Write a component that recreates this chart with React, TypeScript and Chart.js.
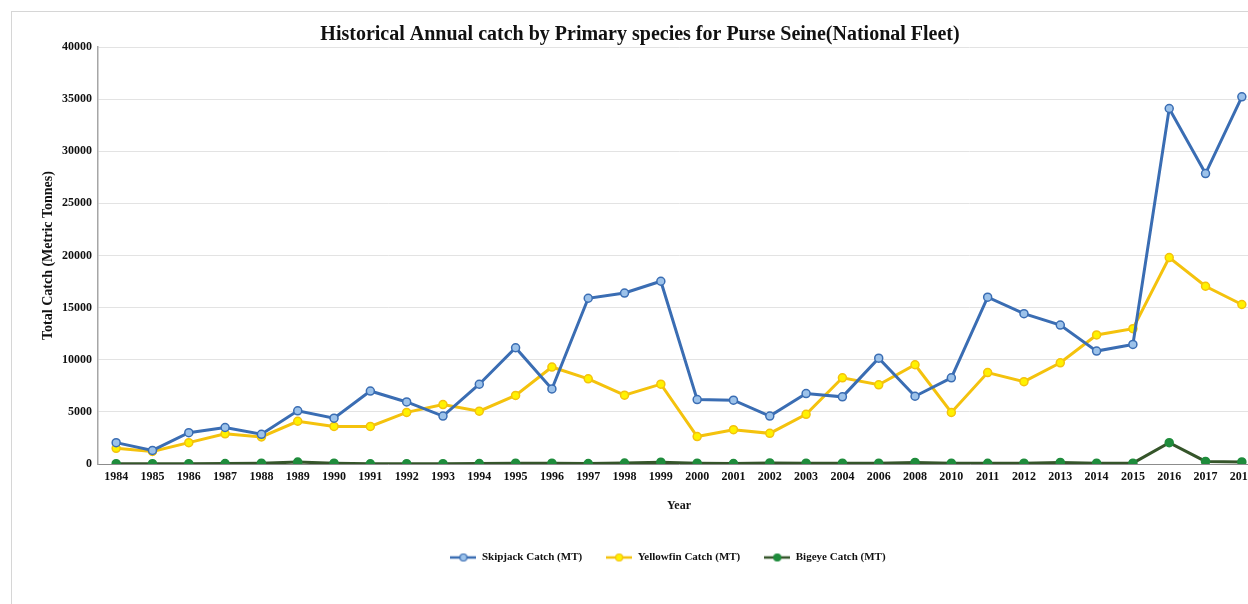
import React, { useEffect, useRef } from "react";
import { Chart, registerables } from "chart.js";

Chart.register(...registerables);

const years = [
  "1984", "1985", "1986", "1987", "1988", "1989", "1990", "1991", "1992", "1993",
  "1994", "1995", "1996", "1997", "1998", "1999", "2000", "2001", "2002", "2003",
  "2004", "2006", "2008", "2010", "2011", "2012", "2013", "2014", "2015", "2016",
  "2017", "2018",
];

const skipjack = [
  2050, 1300, 3000, 3500, 2850, 5100, 4400, 7000, 5950, 4600,
  7650, 11150, 7200, 15900, 16400, 17530, 6180, 6120, 4600, 6760,
  6440, 10150, 6500, 8270, 16000, 14420, 13330, 10830, 11470, 34100,
  27860, 35220,
];

const yellowfin = [
  1500, 1200, 2050, 2900, 2600, 4100, 3600, 3600, 4950, 5700,
  5070, 6580, 9300, 8170, 6600, 7660, 2630, 3290, 2940, 4770,
  8270, 7600, 9520, 4940, 8770, 7900, 9710, 12380, 12980, 19800,
  17050, 15300,
];

const bigeye = [
  30, 30, 30, 40, 80, 180, 80, 20, 30, 30,
  40, 80, 80, 40, 90, 170, 80, 40, 100, 80,
  80, 80, 150, 80, 70, 80, 150, 80, 80, 2050,
  250, 200,
];

const seriesNames = ["Skipjack Catch (MT)", "Yellowfin Catch (MT)", "Bigeye Catch (MT)"];
const yTicks = [0, 5000, 10000, 15000, 20000, 25000, 30000, 35000, 40000];

const TITLE = "Historical Annual catch by Primary species for Purse Seine(National Fleet)";
const SERIF = "'Liberation Serif', 'Times New Roman', serif";

function makeMarker(line: string, fill: string, border: string) {
  const c = document.createElement("canvas");
  c.width = 26;
  c.height = 10;
  const ctx = c.getContext("2d")!;
  ctx.strokeStyle = line;
  ctx.lineWidth = 2.5;
  ctx.beginPath();
  ctx.moveTo(0, 5);
  ctx.lineTo(26, 5);
  ctx.stroke();
  ctx.beginPath();
  ctx.arc(13, 5, 3.5, 0, Math.PI * 2);
  ctx.fillStyle = fill;
  ctx.fill();
  ctx.lineWidth = 1.2;
  ctx.strokeStyle = border;
  ctx.stroke();
  return c;
}

const legendShift = {
  id: "legendShift",
  afterLayout(chart: any) {
    const lg = chart.legend;
    if (lg) {
      lg.left -= 11;
      lg.right -= 11;
    }
  },
};

export default function App() {
  const ref = useRef<HTMLCanvasElement | null>(null);

  useEffect(() => {
    document.body.style.margin = "0";
    const canvas = ref.current!;
    const styles = [
      { line: "#3a6db3", fill: "#9cc2ea", border: "#3a6db3" },
      { line: "#f4c20d", fill: "#fff200", border: "#f4c20d" },
      { line: "#35552a", fill: "#1f8c3c", border: "#1f8c3c" },
    ];
    const markers = styles.map((s) => makeMarker(s.line, s.fill, s.border));
    const values = [skipjack, yellowfin, bigeye];

    const chart = new Chart(canvas, {
      type: "line",
      data: {
        labels: years,
        datasets: values.map((v, i) => ({
          label: seriesNames[i],
          data: v,
          borderColor: styles[i].line,
          backgroundColor: styles[i].fill,
          pointBackgroundColor: styles[i].fill,
          pointBorderColor: styles[i].border,
          pointBorderWidth: 1.5,
          pointRadius: 4,
          borderWidth: 3,
          tension: 0,
          fill: false,
        })),
      },
      plugins: [legendShift],
      options: {
        animation: false,
        responsive: false,
        devicePixelRatio: 1,
        layout: { padding: { left: 20, right: 10, top: 0, bottom: 31 } },
        plugins: {
          title: {
            display: true,
            text: TITLE,
            color: "#111",
            font: { family: SERIF, size: 20, weight: "bold" },
            padding: { top: 23, bottom: 0 },
          },
          legend: {
            position: "bottom",
            fullSize: false,
            labels: {
              usePointStyle: true,
              pointStyleWidth: 26,
              padding: 24,
              color: "#111",
              font: { family: SERIF, size: 11, weight: "bold" },
              generateLabels: (ch: any) => {
                const items = Chart.defaults.plugins.legend.labels.generateLabels(ch);
                return items.map((it: any, i: number) => ({ ...it, pointStyle: markers[i] }));
              },
            },
          },
          tooltip: { enabled: false },
        },
        scales: {
          x: {
            offset: true,
            grid: { display: false, drawTicks: false },
            border: { display: true, color: "#8c8c8c", width: 1 },
            ticks: {
              padding: 6,
              color: "#111",
              maxRotation: 0,
              autoSkip: false,
              font: { family: SERIF, size: 12, weight: "bold" },
            },
            title: {
              display: true,
              text: "Year",
              color: "#111",
              font: { family: SERIF, size: 12, weight: "bold" },
              padding: { top: 0, bottom: 15 },
            },
            afterFit: (s: any) => {
              s.height = 64;
            },
          },
          y: {
            min: 0,
            max: 40000,
            afterBuildTicks: (s: any) => {
              s.ticks = yTicks.map((v) => ({ value: v }));
            },
            grid: { color: "#e3e3e3", drawTicks: false, lineWidth: 1 },
            border: { display: true, color: "#a6a6a6", width: 1.5 },
            ticks: {
              padding: 6,
              color: "#111",
              font: { family: SERIF, size: 12, weight: "bold" },
              callback: (v: any) => String(v),
            },
            title: {
              display: true,
              text: "Total Catch (Metric Tonnes)",
              color: "#111",
              font: { family: SERIF, size: 14, weight: "bold" },
              padding: { top: 20, bottom: 0 },
            },
            afterFit: (s: any) => {
              s.width = 78;
            },
          },
        },
      },
    });
    return () => chart.destroy();
  }, []);

  return (
    <div style={{ position: "relative", width: 1248, height: 604, overflow: "hidden", background: "#fff" }}>
      <div
        style={{
          position: "absolute",
          left: 11,
          top: 11,
          right: -2,
          bottom: -2,
          borderLeft: "1.5px solid #d6d6d6",
          borderTop: "1.5px solid #d6d6d6",
        }}
      />
      <canvas
        ref={ref}
        width={1270}
        height={604}
        style={{ position: "absolute", left: 0, top: 0, width: 1270, height: 604 }}
      />
    </div>
  );
}
